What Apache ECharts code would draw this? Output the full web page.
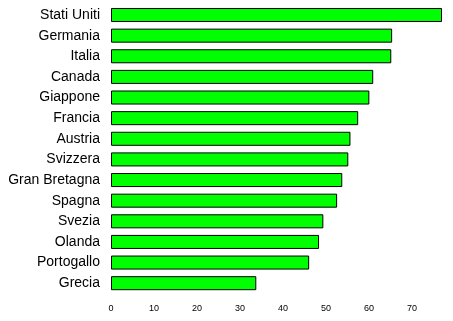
<!DOCTYPE html>
<html><head><meta charset="utf-8">
<script src="https://cdn.jsdelivr.net/npm/echarts@6/dist/echarts.min.js"></script>
<style>html,body{margin:0;padding:0;background:#fff}#c{width:453px;height:321px}</style>
</head><body><div id="c"></div>
<script>
const categories = ["Stati Uniti","Germania","Italia","Canada","Giappone","Francia","Austria","Svizzera","Gran Bretagna","Spagna","Svezia","Olanda","Portogallo","Grecia"];
const values = [77.0,65.4,65.2,61.0,60.1,57.5,55.7,55.2,53.8,52.6,49.4,48.4,46.1,33.8];
const xTicks = [0,10,20,30,40,50,60,70];
const chart = echarts.init(document.getElementById('c'), null, {renderer:'canvas'});
chart.setOption({
  animation:false,
  backgroundColor:'#fff',
  grid:{left:111,right:11,top:4.7,bottom:27.5,containLabel:false},
  xAxis:{type:'value',min:0,max:77,interval:10,
    axisLine:{show:false},axisTick:{show:false},splitLine:{show:false},
    axisLabel:{fontFamily:'Liberation Sans, Arial, sans-serif',fontSize:9,color:'#000',margin:11,
      formatter:v=>xTicks.includes(v)?String(v):''}},
  yAxis:{type:'category',data:categories,inverse:true,
    axisLine:{show:false},axisTick:{show:false},splitLine:{show:false},
    axisLabel:{fontFamily:'Liberation Sans, Arial, sans-serif',fontSize:14,color:'#000',margin:11}},
  series:[{type:'bar',data:values,barCategoryGap:'32%',
    itemStyle:{color:'#00ff00',borderColor:'#000',borderWidth:1}}]
});
</script></body></html>
